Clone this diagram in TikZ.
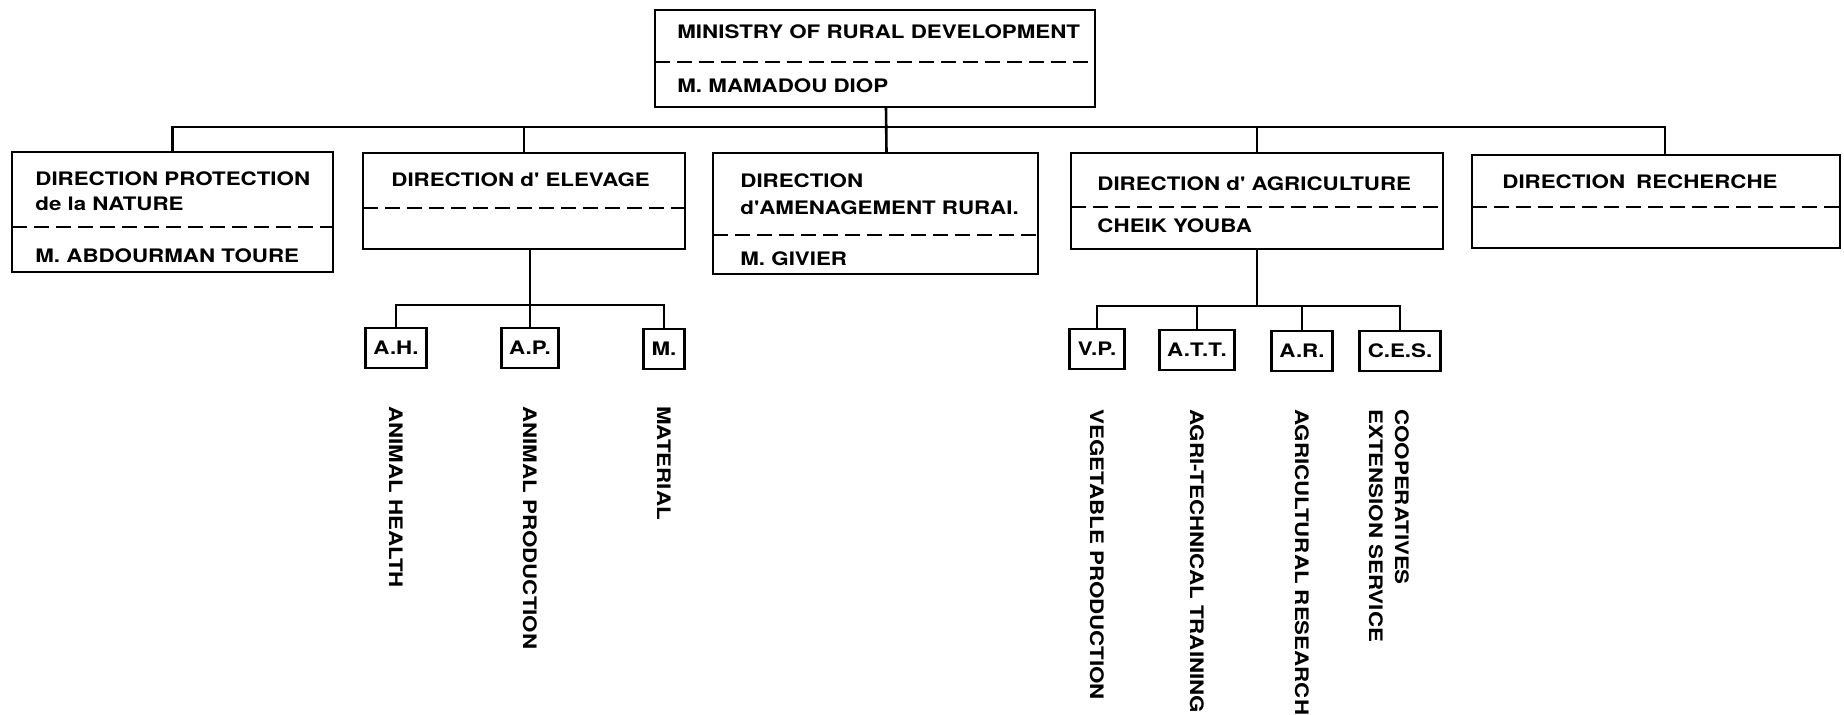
\documentclass[tikz,border=0pt]{standalone}
\usepackage{fontspec}
\usepackage{tikz}
\usetikzlibrary{calc}
\newfontfamily\orgfont{TeX Gyre Heros}[FakeStretch=1.2]

\begin{document}
\begin{tikzpicture}[x=0.5pt,y=-0.5pt,
  font=\orgfont\bfseries\fontsize{9.3pt}{13pt}\selectfont,
  unitbox/.style={draw,line width=1.4pt,inner sep=0pt,outer sep=0pt,anchor=north west},
  divider/.style={line width=1.1pt,dash pattern=on 7.5pt off 3.5pt},
  txt/.style={anchor=base west,inner sep=0pt},
  subbox/.style={draw,line width=1.4pt,inner xsep=4pt,inner ysep=0pt,minimum height=20pt,outer sep=0pt},
  vtext/.style={rotate=-90,anchor=west,inner sep=0pt,align=left},
  link/.style={line width=1.3pt}]
\useasboundingbox (0,0) rectangle (1844,715);

\node[unitbox,minimum width=220pt,minimum height=48.5pt] (minis) at (655,10) {};
\node[txt] (minis1) at ($(minis.north west)+(22,29)$) {MINISTRY OF RURAL DEVELOPMENT};
\node[txt] (minis2) at ($(minis.north west)+(22,83)$) {M. MAMADOU DIOP};
\draw[divider] ($(minis.north west)+(0,52)$) -- ($(minis.north east)+(0,52)$);

\node[unitbox,minimum width=160.5pt,minimum height=60pt] (prot) at (12,152) {};
\node[txt] (prot1) at ($(prot.north west)+(23,34)$) {DIRECTION PROTECTION};
\node[txt] (prot2) at ($(prot.north west)+(23,59)$) {de la NATURE};
\node[txt] (prot3) at ($(prot.north west)+(23,111)$) {M. ABDOURMAN TOURE};
\draw[divider] ($(prot.north west)+(0,75)$) -- ($(prot.north east)+(0,75)$);

\node[unitbox,minimum width=161pt,minimum height=48pt] (elev) at (363,153) {};
\node[txt] (elev1) at ($(elev.north west)+(28,34)$) {DIRECTION d' ELEVAGE};
\draw[divider] ($(elev.north west)+(0,55)$) -- ($(elev.north east)+(0,55)$);

\node[unitbox,minimum width=162.5pt,minimum height=60.5pt] (amen) at (713,153) {};
\node[txt] (amen1) at ($(amen.north west)+(27,35)$) {DIRECTION};
\node[txt] (amen2) at ($(amen.north west)+(27,62)$) {d'AMENAGEMENT RURAI.};
\node[txt] (amen3) at ($(amen.north west)+(27,113)$) {M. GIVIER};
\draw[divider] ($(amen.north west)+(0,82)$) -- ($(amen.north east)+(0,82)$);

\node[unitbox,minimum width=186pt,minimum height=48pt] (agri) at (1071,153) {};
\node[txt] (agri1) at ($(agri.north west)+(26,38)$) {DIRECTION d' AGRICULTURE};
\node[txt] (agri2) at ($(agri.north west)+(26,80)$) {CHEIK YOUBA};
\draw[divider] ($(agri.north west)+(0,54)$) -- ($(agri.north east)+(0,54)$);

\node[unitbox,minimum width=184pt,minimum height=46.5pt] (rech) at (1472,155) {};
\node[txt] (rech1) at ($(rech.north west)+(30,34)$) {DIRECTION\hspace{5.5pt}RECHERCHE};
\draw[divider] ($(rech.north west)+(0,52)$) -- ($(rech.north east)+(0,52)$);

\node[subbox] (ah) at (396,348) {A.H.};
\node[subbox] (ap) at (530,348) {A.P.};
\node[subbox] (mat) at (664,349) {M.};
\node[subbox] (vp) at (1097,349) {V.P.};
\node[subbox] (att) at (1197,350) {A.T.T.};
\node[subbox] (ar) at (1302,351) {A.R.};
\node[subbox] (ces) at (1400,351) {C.E.S.};

\coordinate (elevtxt) at (0,406);
\coordinate (agritxt) at (0,409);
\node[vtext] (ahl) at (ah |- elevtxt) {ANIMAL HEALTH};
\node[vtext] (apl) at (ap |- elevtxt) {ANIMAL PRODUCTION};
\node[vtext] (matl) at (mat |- elevtxt) {MATERIAL};
\node[vtext] (vpl) at (vp |- agritxt) {VEGETABLE PRODUCTION};
\node[vtext] (attl) at (att |- agritxt) {AGRI-TECHNICAL TRAINING};
\node[vtext] (arl) at (ar |- agritxt) {AGRICULTURAL RESEARCH};
\node[vtext] (cesl) at ([xshift=-5.5pt]ces |- agritxt) {COOPERATIVES\\EXTENSION SERVICE};

\coordinate (bus) at (0,127);
\draw[link] (prot.north) |- ([xshift=4.5pt]rech.north |- bus) -- ([xshift=4.5pt]rech.north);
\draw[link] ([xshift=5.5pt]minis.south) -- ([xshift=5.5pt]amen.north);
\draw[link] (elev.north |- bus) -- (elev.north);
\draw[link] (agri.north |- bus) -- (agri.north);

\coordinate (elevbus) at (0,305);
\draw[link] (elev.south -| ap.north) -- (ap.north);
\draw[link] (ah.north) |- (mat.north |- elevbus) -- (mat.north);
\coordinate (agribus) at (0,306);
\draw[link] (agri.south) -- (agri.south |- agribus);
\draw[link] (vp.north) |- (ces.north |- agribus) -- (ces.north);
\draw[link] (att.north) -- (att.north |- agribus);
\draw[link] (ar.north) -- (ar.north |- agribus);
\end{tikzpicture}
\end{document}
